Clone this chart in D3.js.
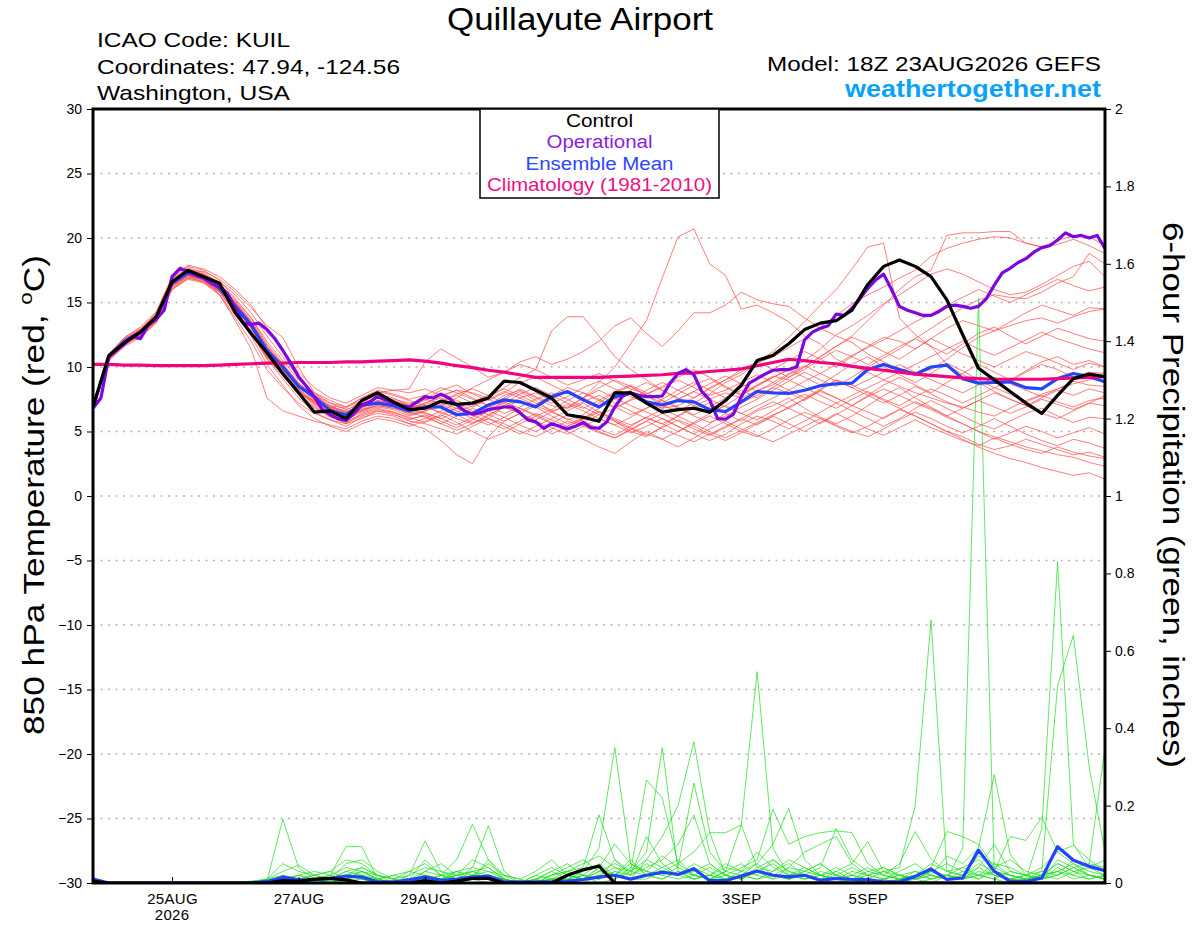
<!DOCTYPE html>
<html>
<head>
<meta charset="utf-8">
<script src="https://cdn.jsdelivr.net/npm/d3@7"></script>
<style>
  body { margin: 0; background: #fff; }
  svg { font-family: "Liberation Sans", Arial, sans-serif; }
</style>
</head>
<body>
<script>
// ---- data (6-hourly from 18Z 23AUG2026, operational is 3-hourly) ----
const tickDates = ["2026-08-25", "2026-08-27", "2026-08-29", "2026-09-01", "2026-09-03", "2026-09-05", "2026-09-07"];
const tickLabels = ["25AUG", "27AUG", "29AUG", "1SEP", "3SEP", "5SEP", "7SEP"];
const tempTicks = [-30, -25, -20, -15, -10, -5, 0, 5, 10, 15, 20, 25, 30];
const precipTicks = [0, 0.2, 0.4, 0.6, 0.8, 1, 1.2, 1.4, 1.6, 1.8, 2];

const controlTemp = [
  6.9, 10.9, 11.9, 12.7, 13.9, 16.6, 17.5, 17.0, 16.5, 14.2, 12.6, 11.1, 9.5, 8.0, 6.5,
  6.6, 6.0, 7.4, 8.0, 7.3, 6.7, 6.8, 7.35, 7.1, 7.2, 7.6, 8.9, 8.8, 8.2, 7.6,
  6.3, 6.1, 5.8, 8.0, 8.0, 7.2, 6.5, 6.7, 6.8, 6.5, 7.4, 8.6, 10.5, 10.9, 11.8,
  12.9, 13.4, 13.6, 14.4, 16.4, 17.8, 18.3, 17.8, 17.0, 15.2, 12.5, 9.9, 9.0, 8.1, 7.2,
  6.4, 7.8, 9.1, 9.45, 9.25
];

const operTemp = [
  6.8, 7.6, 10.8, 11.3, 11.8, 12.35, 12.2, 13.25, 13.7, 14.4,
  17.0, 17.65, 17.4, 17.1, 16.9, 16.5, 16.2, 15.7, 14.55, 13.4,
  13.3, 13.4, 12.9, 12.2, 11.3, 10.3, 9.25, 8.5, 7.7, 6.7,
  6.3, 6.0, 5.85, 6.4, 7.05, 7.3, 7.7, 7.45, 7.2, 7.0,
  6.9, 7.3, 7.7, 7.6, 7.9, 7.6, 7.05, 6.6, 6.35, 6.45,
  6.7, 6.8, 6.9, 6.9, 6.45, 5.9, 5.75, 5.25, 5.6, 5.4,
  5.2, 5.4, 5.7, 5.3, 5.25, 5.75, 6.9, 7.75, 8.0, 7.8,
  7.7, 7.7, 7.75, 8.75, 9.5, 9.8, 9.4, 8.1, 7.45, 6.0,
  5.95, 6.35, 7.7, 8.75, 9.1, 9.45, 9.75, 9.8, 9.8, 10.0,
  12.1, 12.7, 13.0, 13.2, 14.1, 14.0, 14.55, 15.3, 16.1, 16.75,
  17.2, 16.0, 14.7, 14.4, 14.2, 14.0, 14.0, 14.3, 14.7, 14.8,
  14.7, 14.55, 14.7, 15.3, 16.35, 17.3, 17.65, 18.1, 18.4, 18.9,
  19.25, 19.4, 19.85, 20.4, 20.1, 20.2, 20.0, 20.2, 19.2
];

const meanTemp = [
  6.9, 10.8, 12.0, 12.7, 13.85, 16.5, 17.3, 16.9, 16.1, 14.7, 13.25, 11.3, 10.0, 8.5, 7.7,
  6.6, 6.3, 7.05, 7.2, 7.0, 6.6, 6.9, 6.9, 6.3, 6.4, 7.05, 7.45, 7.3, 6.9, 7.7,
  8.1, 7.45, 6.9, 7.7, 8.0, 7.3, 7.05, 7.4, 7.3, 6.7, 6.55, 7.3, 8.1, 8.0, 7.95,
  8.2, 8.55, 8.7, 8.75, 9.8, 10.2, 9.8, 9.45, 10.0, 10.15, 9.1, 8.75, 8.8, 8.85, 8.4,
  8.3, 9.1, 9.5, 9.25, 8.85
];

const climTemp = [
  10.2, 10.2, 10.15, 10.15, 10.1, 10.1, 10.1, 10.1, 10.15, 10.2, 10.25, 10.3, 10.3, 10.35, 10.35,
  10.35, 10.4, 10.4, 10.45, 10.5, 10.55, 10.45, 10.3, 10.1, 9.95, 9.75, 9.6, 9.4, 9.2, 9.2,
  9.2, 9.2, 9.2, 9.25, 9.3, 9.35, 9.4, 9.5, 9.55, 9.65, 9.75, 9.85, 10.1, 10.35, 10.6,
  10.5, 10.35, 10.25, 10.05, 9.9, 9.75, 9.6, 9.45, 9.35, 9.25, 9.15, 9.1, 9.05, 9.05, 9.05,
  9.05, 9.1, 9.15, 9.2, 9.25
];

const memberTemp = [
  [7.0,10.9,12.2,12.9,14.0, 16.7,17.6,17.2,16.4,15.0, 13.5,11.6,10.1,8.6,7.5, 6.8,6.2,6.9,7.6,7.4, 6.8,7.2,7.6,7.0,6.2,
   6.8,7.5,8.1,7.4,6.6, 5.9,6.3,7.2,8.0,8.5, 7.8,7.0,6.6,7.2,7.9, 8.8,9.4,10.3,10.8,11.5, 12.2,13.1,14.0,14.9,15.6,
   16.2,16.9,17.5,18.6,19.2, 19.6,19.9,20.1,20.0,19.6, 19.3,19.5,19.9,19.4,18.8],
  [6.8,10.6,11.8,12.5,13.6, 16.2,17.0,16.8,16.0,14.5, 13.0,11.0,9.6,8.1,7.2, 6.4,6.0,6.6,7.0,6.8, 6.4,6.6,6.9,6.3,5.7,
   6.0,6.9,7.4,6.9,6.2, 5.6,6.0,6.8,7.5,8.0, 7.4,6.8,7.0,7.6,8.4, 9.0,9.6,10.4,11.2,12.3, 13.5,14.8,16.0,17.6,19.3,
   19.6,13.8,12.5,11.6,10.2, 9.4,8.8,8.1,7.5,7.0, 6.4,6.0,6.6,7.2,7.8],
  [7.1,11.0,12.3,13.0,14.2, 16.9,17.8,17.5,16.7,15.3, 13.8,12.0,10.5,9.0,8.0, 7.2,6.7,7.1,7.6,7.5, 7.2,7.5,7.2,6.8,6.4,
   7.0,7.8,8.2,7.6,7.0, 6.8,7.6,8.8,10.0,11.8, 13.6,16.9,20.1,20.7,18.0, 17.1,14.5,14.8,14.2,13.5, 12.4,11.8,10.6,10.1,9.6,
   9.0,8.5,8.0,7.6,7.2, 6.9,6.5,6.2,6.8,7.4, 7.9,8.3,8.7,9.0,9.3],
  [6.9,10.7,12.0,12.8,13.9, 16.6,17.4,17.1,16.6,15.6, 14.2,12.4,10.8,9.2,8.0, 7.4,6.9,7.4,8.0,8.2, 8.0,8.3,7.8,8.2,8.0,
   7.6,8.4,9.2,9.8,12.8, 13.9,13.9,12.4,10.8,9.8, 9.0,8.2,7.6,7.0,6.5, 7.0,7.8,8.6,9.2,9.8, 10.5,11.4,12.5,13.2,14.0,
   14.9,15.6,16.4,17.2,17.6, 17.2,16.6,16.0,15.6,15.8, 16.4,17.1,17.8,18.2,17.0],
  [6.9,10.8,12.1,12.8,13.8, 16.4,17.2,16.9,16.2,14.9, 13.4,11.5,10.2,8.8,7.8, 7.0,6.5,7.0,7.3,7.1, 6.7,7.0,7.0,7.6,8.4,
   9.0,9.6,10.4,10.8,10.2, 10.6,11.2,12.0,13.2,13.8, 12.6,11.6,12.8,14.2,14.2, 14.8,15.8,15.2,14.9,14.7, 13.8,13.0,12.4,11.9,11.0,
   10.4,9.8,9.5,9.8,10.6, 11.5,12.3,12.8,13.2,13.6, 13.8,13.4,13.9,14.3,14.5],
  [6.7,10.5,11.6,12.3,13.4, 16.0,16.8,16.5,15.6,14.0, 12.6,10.6,9.1,7.6,6.5, 5.9,5.4,6.1,6.4,6.2, 5.6,5.2,4.3,3.2,2.5,
   4.6,5.8,6.4,5.6,4.8, 5.4,6.0,6.6,5.8,5.0, 4.6,5.4,6.2,6.8,7.2, 6.4,5.8,6.6,7.0,7.6, 6.8,6.1,5.6,6.2,7.0,
   7.8,8.4,7.6,6.9,6.2, 5.6,5.0,4.6,4.2,3.8, 3.5,3.2,3.0,2.6,2.3],
  [7.0,10.9,12.1,12.6,13.7, 16.5,17.5,17.4,16.8,15.8, 14.6,13.2,12.3,10.0,8.0, 6.8,6.4,7.2,7.9,7.6, 7.0,6.9,6.5,6.0,5.6,
   6.2,7.0,7.6,8.0,7.4, 6.8,7.3,7.8,7.2,6.6, 6.0,5.6,6.2,7.0,7.5, 8.0,7.6,8.2,8.6,9.4, 10.0,10.8,11.6,12.4,13.6,
   14.8,16.0,17.0,17.5,20.2, 20.4,20.4,20.5,20.5,19.6, 19.3,19.8,20.2,20.1,19.4],
  [6.9,10.8,12.0,12.6,13.7, 16.3,17.1,16.8,15.8,14.2, 12.6,10.8,9.4,8.0,7.4, 6.9,6.6,7.4,7.8,7.3, 7.1,7.5,8.2,8.6,7.9,
   7.4,8.0,8.8,9.2,8.6, 8.0,7.6,8.4,9.0,8.5, 7.8,7.2,7.9,8.6,9.1, 8.4,7.8,8.5,9.2,9.8, 9.2,8.6,9.4,10.2,10.8,
   10.0,9.4,8.8,9.5,10.3, 9.7,9.0,8.4,8.9,9.6, 10.2,9.8,9.2,9.6,9.5],
  [6.8,10.7,11.9,12.6,13.6, 16.2,17.0,16.6,15.6,13.8, 12.0,9.8,8.4,7.2,6.4, 5.9,5.6,6.4,6.8,6.5, 6.0,6.2,5.6,5.1,5.6,
   6.3,6.9,6.4,5.8,5.3, 4.8,5.4,6.0,5.5,4.9, 5.4,6.0,5.4,4.8,4.3, 4.8,5.6,6.2,5.8,5.2, 5.8,6.5,7.2,6.6,6.0,
   5.4,6.0,6.8,7.4,6.8, 6.2,5.6,5.2,5.8,6.4, 6.8,6.2,5.7,6.1,6.0],
  [7.0,10.8,12.1,12.8,13.9, 16.6,17.4,17.0,16.2,14.8, 13.2,11.2,9.8,8.4,7.6, 7.0,6.8,7.6,8.1,7.8, 7.4,7.0,6.4,6.8,7.3,
   7.8,8.3,7.8,7.2,6.6, 6.9,7.6,8.2,7.6,7.0, 6.5,6.0,5.4,4.8,5.6, 6.4,7.2,7.8,8.4,8.0, 7.4,8.2,9.0,8.6,8.0,
   7.4,6.8,6.2,5.6,5.0, 4.6,4.0,3.6,3.9,4.4, 4.0,3.6,3.2,3.4,3.0],
  [6.9,10.9,12.2,12.9,14.1, 16.8,17.7,17.3,16.5,15.2, 13.8,11.8,10.3,8.7,7.6, 6.9,6.4,6.8,7.4,7.2, 6.8,7.1,7.4,7.9,8.3,
   7.8,7.2,6.6,7.1,7.8, 8.4,8.0,7.4,6.8,7.5, 8.2,8.8,8.2,7.6,8.3, 9.0,9.8,10.4,9.8,9.2, 9.8,10.6,11.3,10.8,10.2,
   10.9,11.6,12.2,11.6,11.0, 11.8,12.6,13.1,12.4,11.8, 12.4,13.0,12.6,12.2,12.0],
  [6.8,10.6,11.9,12.7,13.8, 16.4,17.3,17.0,16.3,14.9, 13.3,11.4,9.9,8.3,7.3, 6.6,6.1,6.6,7.1,6.9, 6.3,6.5,6.0,5.5,6.1,
   6.7,7.3,6.8,6.2,6.7, 7.4,8.0,7.5,6.9,6.3, 6.8,7.5,8.2,8.8,8.2, 7.6,8.4,9.2,9.8,10.5, 11.2,10.6,10.0,10.8,11.6,
   12.3,12.0,11.4,12.2,13.0, 13.6,13.2,12.8,13.5,14.2, 14.8,14.4,14.0,14.6,14.5],
  [6.7,10.6,11.8,12.4,13.5, 16.1,16.9,16.6,15.9,14.6, 13.1,11.1,9.7,8.2,7.0, 6.2,5.6,6.0,6.6,6.4, 5.8,5.6,5.2,4.8,5.4,
   6.0,5.6,5.0,4.6,5.2, 5.8,5.4,4.9,4.5,5.1, 5.8,6.4,5.8,5.2,4.7, 5.3,6.0,6.7,7.3,6.8, 7.5,8.2,7.6,7.0,7.8,
   8.6,9.2,8.6,8.0,8.8, 9.5,10.2,9.6,9.0,9.7, 10.4,10.8,10.2,10.5,10.0],
  [7.1,11.0,12.3,13.1,14.3, 17.0,17.9,17.6,17.0,16.0, 14.8,13.0,11.2,9.6,8.4, 7.6,7.2,7.8,8.4,8.2, 8.3,10.4,11.4,10.7,10.0,
   9.2,9.6,10.2,9.8,9.2, 8.6,9.0,9.5,8.9,8.3, 7.9,8.4,9.0,8.4,7.8, 8.2,8.8,9.4,8.8,8.2, 7.6,8.3,9.0,8.4,7.8,
   7.2,7.8,8.5,7.9,7.3, 6.8,7.4,8.0,7.5,7.0, 7.6,8.2,7.8,8.3,8.0],
  [6.8,10.5,11.7,12.4,13.5, 16.0,16.9,16.6,15.8,14.2, 12.4,10.2,8.6,7.0,6.0, 5.4,5.0,5.6,6.0,5.8, 5.4,5.8,6.3,5.7,5.0,
   4.4,4.9,5.6,6.2,5.6, 5.0,4.4,3.8,3.3,4.2, 5.0,4.4,3.8,4.5,5.2, 5.8,5.2,4.7,4.2,4.8, 5.4,6.0,5.5,5.0,4.6,
   5.2,5.9,6.5,6.0,5.4, 4.9,5.4,6.0,5.4,4.8, 4.3,3.9,4.4,4.1,3.7],
  [6.9,10.7,11.9,12.6,13.7, 16.4,17.2,16.8,15.6,13.6, 11.4,7.6,6.6,6.2,5.8, 5.5,5.2,5.8,6.2,6.0, 5.6,6.0,6.6,7.2,6.6,
   6.0,5.4,4.8,5.4,6.0, 6.6,7.2,6.5,5.9,5.3, 4.8,4.4,5.0,5.6,6.2, 5.6,5.0,4.6,5.2,5.9, 6.5,6.0,5.4,4.9,5.4,
   6.1,6.7,6.2,5.6,5.0, 4.4,3.8,3.3,2.9,2.6, 2.2,1.9,1.6,1.8,1.3],
  [7.0,10.8,12.0,12.7,13.8, 16.5,17.3,16.9,16.1,14.6, 13.0,11.0,9.6,8.2,7.2, 6.5,6.1,6.7,7.2,7.0, 6.6,6.8,7.3,7.8,7.2,
   6.6,7.2,7.9,8.4,7.8, 7.2,6.8,7.4,8.1,8.6, 8.0,7.4,6.8,6.2,5.7, 6.2,6.9,7.5,8.2,8.9, 9.6,9.0,8.5,9.2,10.0,
   10.7,11.4,12.2,13.0,13.8, 14.6,15.2,15.6,15.4,15.3, 15.8,16.5,17.0,18.8,18.0],
  [6.8,10.7,11.9,12.5,13.6, 16.3,17.1,16.7,15.8,14.3, 12.7,10.7,9.3,7.9,6.9, 6.2,5.8,6.3,6.7,6.5, 6.1,5.7,6.2,6.8,6.3,
   5.7,5.2,5.8,6.4,5.9, 5.4,5.9,6.5,6.0,5.5, 6.1,6.7,6.2,5.6,5.0, 4.5,5.1,5.7,6.3,6.8, 6.2,5.6,6.3,7.0,6.5,
   6.0,6.7,7.3,6.8,6.2, 6.8,7.4,6.9,6.4,6.9, 7.5,7.1,6.7,7.2,7.0],
  [7.0,10.9,12.1,12.8,14.0, 16.6,17.5,17.2,16.4,15.1, 13.6,11.7,10.2,8.7,7.8, 7.2,6.9,7.6,8.2,7.9, 7.5,7.8,8.4,8.0,7.5,
   7.0,7.6,8.3,7.7,7.2, 7.7,8.4,8.9,8.3,7.7, 7.2,6.8,7.5,8.1,7.5, 6.9,6.4,7.0,7.6,8.2, 8.9,9.5,8.9,8.4,9.0,
   9.6,10.2,9.6,9.0,8.5, 8.0,8.6,9.2,8.7,8.2, 7.7,8.3,8.9,8.6,8.5],
  [6.9,10.8,12.0,12.8,13.9, 16.5,17.3,17.0,16.2,14.8, 13.2,11.3,9.9,8.5,7.4, 6.7,6.3,6.9,7.3,7.1, 6.7,6.4,6.0,6.5,7.0,
   7.5,7.0,6.4,5.9,6.5, 7.1,6.6,6.0,5.5,6.1, 6.8,7.4,6.9,6.3,6.9, 7.6,8.2,7.6,8.4,9.2, 10.0,10.8,11.6,12.3,11.8,
   11.2,10.6,11.4,12.2,11.6, 11.0,10.5,10.0,10.6,11.2, 10.8,10.3,9.8,10.3,10.0],
  [6.9,10.7,12.0,12.7,13.8, 16.4,17.2,16.9,16.0,14.4, 12.8,10.9,9.5,8.1,7.1, 6.4,5.9,6.5,6.9,6.7, 6.2,6.6,7.1,6.6,6.0,
   5.5,6.1,6.8,6.3,5.7, 5.2,5.7,6.3,5.8,5.2, 4.7,5.3,5.9,5.4,4.8, 4.3,4.9,5.6,6.2,5.6, 5.0,5.7,6.4,5.8,5.2,
   4.7,5.3,5.9,5.3,4.8, 4.3,3.9,4.5,4.0,3.6, 3.3,3.8,3.4,3.1,2.9],
  [7.0,10.9,12.1,12.8,13.9, 16.6,17.4,17.0,16.3,14.9, 13.4,11.4,10.0,8.6,7.6, 6.9,6.5,7.1,7.6,7.4, 7.0,7.4,7.9,7.4,6.9,
   7.5,8.1,7.6,7.0,7.5, 8.1,7.6,7.0,7.6,8.2, 8.8,8.2,7.5,8.1,8.7, 9.3,8.7,8.1,8.8,9.5, 10.1,9.5,10.2,10.9,11.5,
   12.1,12.8,13.5,14.1,14.8, 15.4,16.0,15.5,15.0,15.6, 16.2,16.8,16.3,15.9,16.2],
  [6.8,10.6,11.8,12.5,13.6, 16.3,17.1,16.7,15.9,14.4, 12.8,10.8,9.4,7.9,6.8, 6.1,5.7,6.2,6.6,6.3, 5.9,6.3,5.8,5.3,5.9,
   6.6,6.1,5.5,5.0,5.6, 6.3,5.8,5.2,4.7,5.4, 6.1,5.6,5.0,5.7,6.4, 7.0,6.4,5.9,6.6,7.3, 7.9,7.3,6.8,7.5,8.1,
   7.5,7.0,7.7,8.3,7.8, 7.2,7.8,8.4,7.9,7.3, 7.8,7.3,6.9,7.4,7.6],
  [7.0,10.8,12.1,12.9,14.0, 16.7,17.5,17.1,16.4,15.0, 13.5,11.5,10.0,8.5,7.5, 6.8,6.3,6.9,7.4,7.2, 6.8,7.2,7.7,8.2,7.6,
   7.0,6.4,6.9,7.5,8.0, 7.5,6.9,6.3,6.8,7.4, 7.9,8.5,9.2,9.8,9.2, 8.5,7.9,8.6,9.3,9.0, 8.4,7.8,7.2,7.8,8.4,
   9.0,9.6,10.2,10.8,11.4, 12.0,11.4,10.9,11.5,12.1, 12.7,12.2,11.8,11.4,11.1],
  [6.9,10.8,12.0,12.7,13.8, 16.5,17.3,16.9,16.1,14.6, 13.1,11.2,9.8,8.3,7.3, 6.6,6.1,6.7,7.0,6.8, 6.5,6.1,5.6,6.2,6.8,
   6.3,5.8,6.4,7.0,6.5, 6.0,5.5,5.0,4.5,5.2, 5.8,5.2,4.7,4.2,4.8, 5.4,6.0,5.5,6.2,6.9, 7.5,8.1,7.6,7.0,7.7,
   8.3,7.8,7.2,6.7,6.1, 5.6,5.0,4.4,4.9,5.4, 5.0,4.5,4.9,5.3,4.8]
];

const controlPrecip = [
  .005,0,0,0,0, 0,0,0,0,0, 0,0,.006,.004,.01, .012,.008,0,0,0, 0,.006,0,.005,.012,
  .012,0,0,0,0, .02,.034,.044,0,0, 0,0,0,0,0, 0,0,0,0,0, 0,0,0,0,0,
  0,0,0,0,0, 0,0,0,0,0, 0,0,0,0,0
];

const meanPrecip = [
  .01,0,0,0,0, 0,0,0,0,0, 0,.004,.015,.008,.008, .012,.018,.015,.003,.003, .008,.015,.007,.01,.015,
  .018,.003,.003,.003,.003, .005,.009,.015,.02,.01, .02,.028,.022,.037,.006, .006,.018,.031,.02,.016,
  .02,.007,.012,.009,.009, .003,.003,.017,.036,.009, .013,.085,.03,.004,.004, .013,.094,.059,.043,.032
];

const memberPrecip = [
  [.01,0,0,0,0, 0,0,0,0,0, 0,.005,.165,.04,.01, .02,.094,.094,.01,0, 0,.02,.01,.03,.02, .01,0,0,.01,.02,
   .03,.02,.05,.02,.01, .06,.12,.2,.365,.13, .02,.01,.03,.01,.02, .04,.02,.01,0,.01, 0,.01,.02,.03,.01,
   .09,1.51,.03,.02,.01, .01,.04,.02,.01,.02],
  [.01,0,0,0,0, 0,0,0,0,0, 0,.01,.03,.046,.02, .01,.05,.06,.03,.01, 0,.03,.02,.06,.152, .06,.01,0,0,.01,
   .01,.03,.09,.35,.05, .02,.04,.06,.02,.01, .03,.15,.546,.09,.02, .01,.03,.02,.01,0, 0,.01,.02,.01,.02,
   .01,.02,.01,0,.01, .14,.83,.1,.04,.02],
  [.01,0,0,0,0, 0,0,0,0,0, 0,0,.02,.01,.005, .01,.03,.04,.02,0, .01,.06,.02,.01,.04, .148,.03,0,.005,.01,
   .02,.01,.03,.05,.03, .08,.35,.03,.01,.02, .01,.02,.03,.05,.02, .01,.02,.04,.02,.01, .03,.04,.2,.68,.03,
   .02,.04,.02,.01,.02, .03,.51,.64,.3,.08],
  [0,0,0,0,0, 0,0,0,0,0, 0,0,.01,.02,.01, 0,.02,.03,.01,0, .02,.109,.03,.01,.02, .05,.02,0,0,.02,
   .03,.04,.176,.06,.03, .266,.22,.05,.02,.01, .01,.03,.02,.06,.03, .02,.01,.03,.05,.107, .03,.02,.01,.02,.07,
   .05,.09,.28,.075,.02, .01,.02,.04,.05,.35],
  [0,0,0,0,0, 0,0,0,0,0, .005,.01,.05,.03,.02, .03,.06,.05,.02,.01, .02,.04,.03,.02,.01, .06,.02,.01,.03,.06,
   .02,.01,.04,.1,.05, .03,.02,.04,.258,.08, .03,.02,.05,.1,.193, .06,.02,.01,.02,.01, 0,.01,.03,.02,.01,
   .02,.05,.03,.01,.02, .04,.08,.097,.06,.03],
  [0,0,0,0,0, 0,0,0,0,0, 0,0,.01,.02,.03, .02,.04,.03,.01,0, .01,.03,.05,.02,.03, .02,.01,0,.01,.03,
   .05,.02,.01,.06,.02, .04,.06,.1,.176,.05, .02,.04,.06,.19,.1, .12,.13,.135,.13,.05, .02,.01,.02,.04,.133,
   .12,.1,.04,.02,.01, .02,.03,.05,.02,.01],
  [0,0,0,0,0, 0,0,0,0,0, 0,.01,.02,.01,0, .01,.02,.04,.02,.01, .03,.05,.02,.01,.03, .04,.01,0,.02,.04,
   .02,.01,.03,.02,.06, .02,.03,.05,.08,.13, .13,.15,.04,.03,.05, .02,.04,.141,.06,.03, .02,.05,.133,.062,.03,
   .04,.02,.03,.12,.11, .17,.08,.05,.03,.02],
  [0,0,0,0,0, 0,0,0,0,0, 0,0,.005,.01,.02, .01,.03,.02,.01,0, .01,.02,.01,.03,.04, .03,.02,.01,0,.01,
   .03,.05,.07,.04,.02, .05,.03,.02,.04,.02, .05,.03,.08,.04,.02, .03,.05,.02,.01,.03, .04,.02,.01,.03,.05,
   .03,.02,.05,.04,.02, .01,.06,.04,.02,.01],
  [0,0,0,0,0, 0,0,0,0,0, 0,0,0,.005,.01, .02,.01,.02,.005,0, 0,.01,.02,.01,.02, .01,0,0,0,0,
   .01,.02,.01,.03,.01, .02,.01,.03,.01,.02, .01,.02,.01,.02,.01, .02,.01,0,.01,0, .01,.02,.01,0,.02,
   .01,.03,.02,.01,.005, .02,.03,.01,.02,.01],
  [0,0,0,0,0, 0,0,0,0,0, 0,0,.01,0,0, 0,.01,.03,.01,.02, .01,0,.01,.02,.01, .02,.01,0,.02,.01,
   0,.01,.02,.01,.04, .03,.02,.01,.02,.01, .02,.01,.03,.02,.04, .03,.02,.01,.02,.04, .02,.01,0,.01,.02,
   .04,.06,.02,.01,.01, .02,.05,.03,.04,.06],
  [0,0,0,0,0, 0,0,0,0,0, 0,.003,.01,.005,0, .01,.02,.01,0,0, 0,.02,.01,0,.01, .02,0,0,.01,.03,
   .01,0,.02,.04,.03, .06,.04,.02,.03,.05, .02,.01,.04,.06,.03, .01,.02,.01,.03,.02, .01,.03,.05,.02,.01,
   .03,.01,.04,.06,.03, .02,.05,.03,.01,.02],
  [0,0,0,0,0, 0,0,0,0,0, 0,0,0,.01,.02, .03,.01,.02,.01,0, .01,0,.02,.03,.01, 0,.01,0,0,.02,
   .04,.06,.03,.02,.05, .03,.07,.04,.02,.01, .03,.05,.02,.01,.04, .08,.1,.12,.05,.02, .03,.01,.02,.05,.03,
   .02,.07,.05,.02,.01, .03,.02,.06,.04,.03],
  [0,0,0,0,0, 0,0,0,0,0, 0,0,.005,.02,.01, 0,.01,.03,.02,.01, 0,.01,0,.02,.06, .04,.01,0,.01,0,
   .02,.01,.04,.02,.01, .01,.03,.02,.05,.03, .01,.02,.01,.03,.06, .04,.02,.03,.01,.02, .04,.02,.01,.03,.02,
   .01,.04,.1,.03,.02, .01,.03,.02,.05,.04],
  [0,0,0,0,0, 0,0,0,0,0, 0,0,0,0,0, .005,.01,0,.01,.02, .03,.02,.01,0,.02, .03,.01,0,0,.01,
   0,.02,.01,.03,.02, .12,.05,.02,.01,.02, .04,.03,.05,.02,.01, .02,.01,.02,.04,.02, .01,.02,.03,.01,.02,
   .01,.02,.01,.03,.02, .01,.02,.04,.02,.01],
  [0,0,0,0,0, 0,0,0,0,0, 0,0,.01,.005,0, 0,.005,.01,0,0, .01,0,.01,.02,.03, .01,0,0,0,0,
   .01,.02,0,.01,.03, .02,.01,.03,.02,.04, .02,.01,.03,.02,.01, .03,.05,.02,.01,0, .01,0,.01,.02,.01,
   .02,.01,.03,.02,.01, .02,.01,.03,.02,.015]
];

// ---- layout ----
const W = 1200, H = 927;
const L = 93, R = 1105, T = 109, B = 883;
const t0 = Date.UTC(2026, 7, 23, 18);
const HOUR = 3600e3;

const svg = d3.select("body").append("svg")
  .attr("width", W).attr("height", H);

const x = d3.scaleUtc()
  .domain([new Date(t0), new Date(t0 + 384 * HOUR)])
  .range([L, R]);
const yT = d3.scaleLinear().domain([-30, 30]).range([B, T]);
const yP = d3.scaleLinear().domain([0, 2]).range([B, T]);

const at6 = i => new Date(t0 + i * 6 * HOUR);
const at3 = i => new Date(t0 + i * 3 * HOUR);

svg.append("defs").append("clipPath").attr("id", "plot")
  .append("rect").attr("x", L).attr("y", T).attr("width", R - L).attr("height", B - T);

// grid
svg.append("g")
  .selectAll("line")
  .data(tempTicks.filter(d => d > -30 && d < 30))
  .join("line")
  .attr("x1", L).attr("x2", R)
  .attr("y1", d => yT(d)).attr("y2", d => yT(d))
  .attr("stroke", "#b4b4b4")
  .attr("stroke-width", 1.3)
  .attr("stroke-dasharray", "2,5.5");

const plot = svg.append("g").attr("clip-path", "url(#plot)");

const lineT6 = d3.line().x((d, i) => x(at6(i))).y(d => yT(d));
const lineT3 = d3.line().x((d, i) => x(at3(i))).y(d => yT(d));
const lineP6 = d3.line().x((d, i) => x(at6(i))).y(d => yP(d));

function thick(d, color) {
  plot.append("path")
    .attr("d", d)
    .attr("fill", "none")
    .attr("stroke", color)
    .attr("stroke-width", 3.2)
    .attr("stroke-linejoin", "round");
}

// ensemble members, temperature
plot.append("g")
  .selectAll("path")
  .data(memberTemp)
  .join("path")
  .attr("d", lineT6)
  .attr("fill", "none")
  .attr("stroke", "#ff4a4a")
  .attr("stroke-opacity", 0.9)
  .attr("stroke-width", 0.8);

// ensemble members, precipitation
plot.append("g")
  .selectAll("path")
  .data(memberPrecip)
  .join("path")
  .attr("d", lineP6)
  .attr("fill", "none")
  .attr("stroke", "#22dd22")
  .attr("stroke-opacity", 0.9)
  .attr("stroke-width", 0.8);

thick(lineT6(meanTemp), "#2244ff");
thick(lineP6(meanPrecip), "#2244ff");
thick(lineT6(climTemp), "#f0057f");
thick(lineT3(operTemp), "#7d07de");
thick(lineT6(controlTemp), "#000");
thick(lineP6(controlPrecip), "#000");

// axes
const leftAxis = svg.append("g")
  .attr("transform", `translate(${L},0)`)
  .call(d3.axisLeft(yT).tickValues(tempTicks).tickSize(6).tickPadding(5));
const rightAxis = svg.append("g")
  .attr("transform", `translate(${R},0)`)
  .call(d3.axisRight(yP).tickValues(precipTicks).tickSize(6).tickPadding(4)
    .tickFormat(d => String(+d.toFixed(1))));
const bottomAxis = svg.append("g")
  .attr("transform", `translate(0,${B})`)
  .call(d3.axisBottom(x).tickValues(tickDates.map(d => new Date(d + "T00:00:00Z")))
    .tickSize(-6).tickPadding(10)
    .tickFormat((d, i) => tickLabels[i]));

[leftAxis, rightAxis, bottomAxis].forEach(g => {
  g.select(".domain").remove();
  g.selectAll("text")
    .attr("font-family", "Liberation Sans, Arial, sans-serif")
    .attr("font-size", 14)
    .attr("fill", "#000");
  g.selectAll("line").attr("stroke", "#000").attr("stroke-width", 1);
});
bottomAxis.selectAll("text").attr("font-size", 15).attr("letter-spacing", 0.3);

svg.append("text")
  .attr("x", x(new Date("2026-08-25T00:00:00Z")))
  .attr("y", 920)
  .attr("text-anchor", "middle")
  .attr("font-size", 15)
  .attr("letter-spacing", 0.3)
  .text("2026");

// frame
svg.append("rect")
  .attr("x", L).attr("y", T).attr("width", R - L).attr("height", B - T)
  .attr("fill", "none").attr("stroke", "#000").attr("stroke-width", 3);

// legend
const legend = svg.append("g");
legend.append("rect")
  .attr("x", 480).attr("y", T).attr("width", 239).attr("height", 89)
  .attr("fill", "#fff").attr("stroke", "#000").attr("stroke-width", 1.5);
const legendItems = [
  ["Control", "#000", 67],
  ["Operational", "#8a1ee0", 106],
  ["Ensemble Mean", "#2f45ff", 148],
  ["Climatology (1981-2010)", "#ee1080", 225]
];
legend.selectAll("text.item")
  .data(legendItems)
  .join("text")
  .attr("class", "item")
  .attr("x", 599.5)
  .attr("y", (d, i) => 127 + i * 21.3)
  .attr("text-anchor", "middle")
  .attr("font-size", 18)
  .attr("textLength", d => d[2])
  .attr("lengthAdjust", "spacingAndGlyphs")
  .attr("fill", d => d[1])
  .text(d => d[0]);

// titles and header
svg.append("text")
  .attr("x", 580).attr("y", 30)
  .attr("text-anchor", "middle")
  .attr("font-size", 31)
  .attr("textLength", 266).attr("lengthAdjust", "spacingAndGlyphs")
  .text("Quillayute Airport");

const info = [["ICAO Code: KUIL", 193], ["Coordinates: 47.94, -124.56", 303], ["Washington, USA", 193]];
svg.selectAll("text.info")
  .data(info)
  .join("text")
  .attr("class", "info")
  .attr("x", 97)
  .attr("y", (d, i) => 47 + i * 26.5)
  .attr("font-size", 21)
  .attr("textLength", d => d[1]).attr("lengthAdjust", "spacingAndGlyphs")
  .text(d => d[0]);

svg.append("text")
  .attr("x", 1101).attr("y", 71)
  .attr("text-anchor", "end")
  .attr("font-size", 21)
  .attr("textLength", 334).attr("lengthAdjust", "spacingAndGlyphs")
  .text("Model: 18Z 23AUG2026 GEFS");

svg.append("text")
  .attr("x", 1101).attr("y", 97)
  .attr("text-anchor", "end")
  .attr("font-size", 23)
  .attr("font-weight", "bold")
  .attr("fill", "#0aa2f7")
  .attr("textLength", 256).attr("lengthAdjust", "spacingAndGlyphs")
  .text("weathertogether.net");

// axis titles
const leftTitle = svg.append("text")
  .attr("transform", "translate(44,495) rotate(-90)")
  .attr("text-anchor", "middle")
  .attr("font-size", 30)
  .attr("textLength", 480).attr("lengthAdjust", "spacingAndGlyphs");
leftTitle.append("tspan").text("850 hPa Temperature (red, ");
leftTitle.append("tspan").attr("font-size", 19).attr("dy", -12).text("o");
leftTitle.append("tspan").attr("dy", 12).text("C)");

svg.append("text")
  .attr("transform", "translate(1163,495) rotate(90)")
  .attr("text-anchor", "middle")
  .attr("font-size", 30)
  .attr("textLength", 546).attr("lengthAdjust", "spacingAndGlyphs")
  .text("6-hour Precipitation (green, inches)");
</script>
</body>
</html>
